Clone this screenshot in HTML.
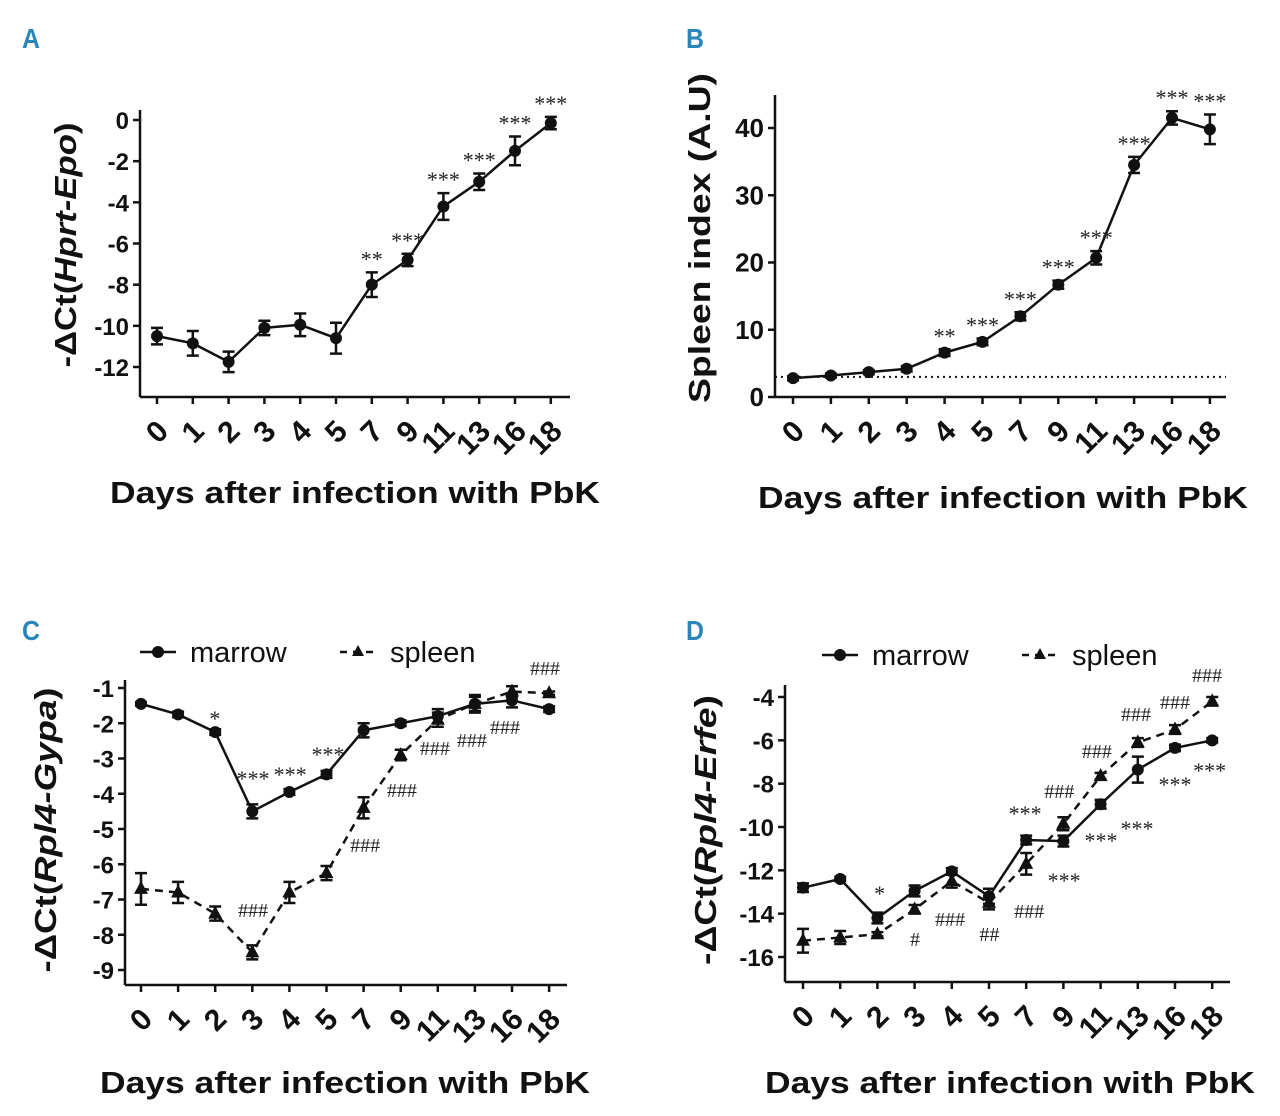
<!DOCTYPE html>
<html><head><meta charset="utf-8"><style>
body{margin:0;background:#fff;}
svg{display:block;font-family:"Liberation Sans",sans-serif;}
</style></head><body>
<svg id="fig" width="1280" height="1116" viewBox="0 0 1280 1116" xmlns="http://www.w3.org/2000/svg">
<text x="22" y="48" font-size="28" font-weight="bold" fill="#2a86b8" textLength="18" lengthAdjust="spacingAndGlyphs">A</text>
<text x="686" y="48" font-size="28" font-weight="bold" fill="#2a86b8" textLength="18" lengthAdjust="spacingAndGlyphs">B</text>
<text x="22" y="640" font-size="28" font-weight="bold" fill="#2a86b8" textLength="18" lengthAdjust="spacingAndGlyphs">C</text>
<text x="686" y="640" font-size="28" font-weight="bold" fill="#2a86b8" textLength="18" lengthAdjust="spacingAndGlyphs">D</text>
</svg>
<script>
const days = ["0","1","2","3","4","5","7","9","11","13","16","18"];
// Panel A
const aVals = [-10.5,-10.85,-11.75,-10.1,-9.95,-10.6,-8.0,-6.8,-4.2,-3.0,-1.5,-0.15];
const aErr  = [0.4,0.6,0.5,0.35,0.55,0.75,0.6,0.3,0.65,0.4,0.7,0.3];
const aStars = ["","","","","","","**","***","***","***","***","***"];
const aTicks = [0,-2,-4,-6,-8,-10,-12];
// Panel B
const bVals = [2.8,3.2,3.7,4.2,6.6,8.2,12,16.7,20.7,34.5,41.5,39.8];
const bErr  = [0.3,0.3,0.3,0.4,0.5,0.5,0.6,0.6,1.0,1.2,1.0,2.2];
const bStars = ["","","","","**","***","***","***","***","***","***","***"];
const bTicks = [0,10,20,30,40];
const bBaseline = [3];
// Panel C
const cMarrow = [-1.45,-1.75,-2.25,-4.5,-3.95,-3.45,-2.2,-2.0,-1.8,-1.45,-1.35,-1.6];
const cMarrowErr = [0.05,0.08,0.08,0.2,0.08,0.1,0.2,0.08,0.2,0.25,0.2,0.08];
const cSpleen = [-6.7,-6.8,-7.4,-8.5,-6.8,-6.25,-4.4,-2.9,-1.9,-1.45,-1.1,-1.15];
const cSpleenErr = [0.45,0.3,0.2,0.2,0.3,0.2,0.3,0.15,0.2,0.2,0.15,0.05];
const cTicks = [-1,-2,-3,-4,-5,-6,-7,-8,-9];
const cAnnText = ["*","***","***","***","###","###","###","###","###","###","###"];
const cAnnPos  = [1.99,3.02,4.02,5.04,3.02,6.04,7.03,7.92,8.92,9.81,10.89];
const cAnnVal  = [-1.68,-3.38,-3.27,-2.70,-7.30,-5.45,-3.89,-2.70,-2.48,-2.11,-0.43];
// Panel D
const dMarrow = [-12.8,-12.4,-14.2,-12.95,-12.05,-13.2,-10.6,-10.65,-8.95,-7.35,-6.35,-6.0];
const dMarrowErr = [0.2,0.1,0.25,0.25,0.15,0.35,0.2,0.25,0.2,0.6,0.15,0.1];
const dSpleen = [-15.25,-15.1,-14.95,-13.8,-12.5,-13.5,-11.7,-9.85,-7.65,-6.1,-5.5,-4.2];
const dSpleenErr = [0.55,0.3,0.1,0.2,0.3,0.3,0.5,0.3,0.15,0.2,0.2,0.2];
const dTicks = [-4,-6,-8,-10,-12,-14,-16];
const dAnnText = ["*","#","###","##","###","***","***","###","***","###","***","###","***","###","***","###"];
const dAnnPos  = [2.06,3.01,3.95,5.01,6.08,5.97,7.02,6.89,8.01,7.90,8.98,8.95,10.0,10.0,10.93,10.86];
const dAnnVal  = [-12.77,-15.17,-14.24,-14.94,-13.88,-9.08,-12.17,-8.34,-10.32,-6.49,-9.77,-4.78,-7.74,-4.23,-7.10,-2.98];

const NS="http://www.w3.org/2000/svg";
const svg=document.getElementById('fig');
function mk(tag,attrs,parent){const e=document.createElementNS(NS,tag);for(const k in attrs)e.setAttribute(k,attrs[k]);(parent||svg).appendChild(e);return e;}

function panel(p){
  const g=mk('g',{});
  
  
  const y=v=>p.y0+(v-p.v0)*(p.y1-p.y0)/(p.v1-p.v0);
  const x=i=>p.x0+i*p.step;
  const ax=mk('line',{x1:p.axX,y1:p.axTop,x2:p.axX,y2:p.axY,stroke:'#111','stroke-width':2.5},g);
  
  const bx=mk('line',{x1:p.axX,y1:p.axY,x2:p.axR,y2:p.axY,stroke:'#111','stroke-width':2.5},g);
  
  p.ticks.forEach(t=>{
    mk('line',{x1:p.axX-7,y1:y(t),x2:p.axX,y2:y(t),stroke:'#111','stroke-width':2.5},g);
    const tx=mk('text',{x:p.axX-11,y:y(t)+9,'text-anchor':'end','font-size':p.tickFs,'font-weight':'bold',fill:'#111'},g);
    tx.textContent=t;
    
  });
  days.forEach((d,i)=>{
    mk('line',{x1:x(i),y1:p.axY,x2:x(i),y2:p.axY+7,stroke:'#111','stroke-width':2.5},g);
    const ax0=x(i)+13, ay0=p.axY+36;
    const tx=mk('text',{x:ax0,y:ay0,'text-anchor':'end','font-size':30,'font-weight':'bold',fill:'#111',transform:`rotate(-45 ${ax0} ${ay0})`},g);
    tx.textContent=d;
    
  });
  if(p.baseline){p.baseline.forEach(b=>{const l=mk('line',{x1:p.axX,y1:y(b),x2:p.axR,y2:y(b),stroke:'#111','stroke-width':2,'stroke-dasharray':'2,4'},g);
    });}
  p.series.forEach(s=>{
    const pts=s.vals.map((v,i)=>x(i)+','+y(v)).join(' ');
    const pl=mk('polyline',{points:pts,fill:'none',stroke:'#111','stroke-width':2.5,'stroke-dasharray':s.dash||'none'},g);
    
    s.vals.forEach((v,i)=>{
      const e=s.err[i],cx=x(i);
      mk('path',{d:`M${cx},${y(v+e)}V${y(v-e)}M${cx-6},${y(v+e)}H${cx+6}M${cx-6},${y(v-e)}H${cx+6}`,stroke:'#111','stroke-width':2.5,fill:'none'},g);
      let m;
      if(s.tri){m=mk('path',{d:`M${cx},${y(v)-8}L${cx+7},${y(v)+5}L${cx-7},${y(v)+5}Z`,fill:'#111'},g);}
      else{m=mk('circle',{cx:cx,cy:y(v),r:6,fill:'#111'},g);}
      
      const lab=s.marks?s.marks[i]:'';
      if(lab){
        const t=mk('text',{x:cx,y:y(v+e)-6,'text-anchor':'middle','font-size':22,fill:'#222','font-family':'Liberation Serif, serif'},g);
        t.textContent=lab;
        
      }
    });
  });
  if(p.ann){
    p.ann.text.forEach((lab,k)=>{
      const isStar=lab.startsWith('*');
      const t=mk('text',{x:x(p.ann.pos[k]),y:y(p.ann.val[k])+(isStar?14:7),'text-anchor':'middle','font-size':isStar?22:20,fill:'#222','font-family':'Liberation Serif, serif'},g);
      t.textContent=lab;
      
    });
  }
  const xt=mk('text',{x:p.xtX,y:p.xtY,'text-anchor':'middle','font-size':31,'font-weight':'bold',fill:'#111',textLength:490,lengthAdjust:'spacingAndGlyphs'},g);
  xt.textContent='Days after infection with PbK';
  
  const yt=mk('text',{x:0,y:0,'text-anchor':'middle','font-size':31,'font-weight':'bold',fill:'#111',transform:`translate(${p.ytX},${p.ytY}) rotate(-90)`,textLength:p.ytLen,lengthAdjust:'spacingAndGlyphs'},g);
  yt.innerHTML=p.yTitle;
  
  if(p.legend){
    const lg=mk('g',{},g);
    const L=p.legend;
    mk('line',{x1:L.x,y1:L.y,x2:L.x+36,y2:L.y,stroke:'#111','stroke-width':2.5},lg);
    mk('circle',{cx:L.x+18,cy:L.y,r:6,fill:'#111'},lg);
    const t1=mk('text',{x:L.x+50,y:L.y+10,'font-size':29,fill:'#111'},lg);t1.textContent='marrow';
    
    mk('line',{x1:L.x+200,y1:L.y,x2:L.x+236,y2:L.y,stroke:'#111','stroke-width':2.5,'stroke-dasharray':'7,6'},lg);
    mk('path',{d:`M${L.x+218},${L.y-7}L${L.x+224},${L.y+4}L${L.x+212},${L.y+4}Z`,fill:'#111'},lg);
    const t2=mk('text',{x:L.x+250,y:L.y+10,'font-size':29,fill:'#111'},lg);t2.textContent='spleen';
    
  }
}

panel({name:'panel-a',axX:140,axTop:110,axY:397,axR:570,x0:157,step:35.8,v0:0,y0:120,v1:-12,y1:367,ticks:aTicks,tickFs:24,
  series:[{name:'epo',vals:aVals,err:aErr,marks:aStars}],
  xtX:355,xtY:503,ytX:76,ytY:245,ytLen:245,yTitle:'-ΔCt(<tspan font-style="italic">Hprt-Epo</tspan>)'});
panel({name:'panel-b',axX:775,axTop:95,axY:397,axR:1226,x0:793,step:37.9,v0:0,y0:397,v1:40,y1:128,ticks:bTicks,tickFs:26,baseline:bBaseline,
  series:[{name:'spleen-index',vals:bVals,err:bErr,marks:bStars}],
  xtX:1003,xtY:508,ytX:710,ytY:238,ytLen:330,yTitle:'Spleen index (A.U)'});
panel({name:'panel-c',axX:125,axTop:680,axY:985,axR:567,x0:141,step:37.1,v0:-1,y0:688,v1:-9,y1:970,ticks:cTicks,tickFs:24,
  series:[{name:'marrow',vals:cMarrow,err:cMarrowErr},
          {name:'spleen',vals:cSpleen,err:cSpleenErr,dash:'8,6',tri:true}],
  ann:{text:cAnnText,pos:cAnnPos,val:cAnnVal},
  legend:{x:140,y:652},
  xtX:345,xtY:1093,ytX:56,ytY:830,ytLen:285,yTitle:'-ΔCt(<tspan font-style="italic">Rpl4-Gypa</tspan>)'});
panel({name:'panel-d',axX:785,axTop:685,axY:982,axR:1230,x0:803,step:37.2,v0:-4,y0:697,v1:-16,y1:957,ticks:dTicks,tickFs:24,
  series:[{name:'marrow',vals:dMarrow,err:dMarrowErr},
          {name:'spleen',vals:dSpleen,err:dSpleenErr,dash:'8,6',tri:true}],
  ann:{text:dAnnText,pos:dAnnPos,val:dAnnVal},
  legend:{x:822,y:655},
  xtX:1010,xtY:1093,ytX:716,ytY:830,ytLen:270,yTitle:'-ΔCt(<tspan font-style="italic">Rpl4-Erfe</tspan>)'});
</script>
</body></html>
